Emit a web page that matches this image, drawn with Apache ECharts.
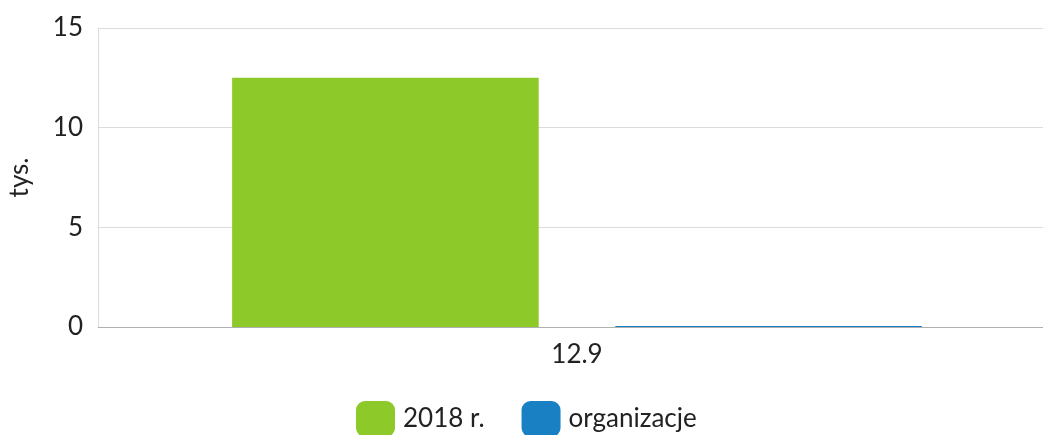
<!DOCTYPE html>
<html>
<head>
<meta charset="utf-8">
<script src="https://cdn.jsdelivr.net/npm/echarts@6/dist/echarts.min.js"></script>
<style>
  html, body { margin: 0; padding: 0; background: #fff; }
  #chart { width: 1043px; height: 435px; }
</style>
</head>
<body>
<div id="chart"></div>
<script>
const categories = ["12.9"];
const seriesNames = ["2018 r.", "organizacje"];
const values2018 = [12.5];
const valuesOrg = [0.05];
const yTicks = { min: 0, max: 15, interval: 5 };

const font = "Lato, 'DejaVu Sans', sans-serif";

const chart = echarts.init(document.getElementById("chart"));
chart.setOption({
  animation: false,
  textStyle: { fontFamily: font },
  grid: {
    left: 98, width: 958, top: 28, height: 299,
    containLabel: false, outerBoundsMode: "none"
  },
  legend: {
    bottom: -2,
    left: 356,
    padding: 0,
    itemWidth: 39,
    itemHeight: 36,
    itemGap: 37,
    icon: "roundRect",
    textStyle: { fontFamily: font, fontSize: 26, color: "#222", padding: [0, 0, 0, 3] },
    data: seriesNames
  },
  xAxis: {
    type: "category",
    data: categories,
    z: 10,
    axisLine: { lineStyle: { color: "rgba(0,0,0,0.2)", width: 1 } },
    axisTick: { show: false },
    axisLabel: { fontFamily: font, fontSize: 26, color: "#222", margin: 15 }
  },
  yAxis: {
    type: "value",
    min: yTicks.min,
    max: yTicks.max,
    interval: yTicks.interval,
    name: "tys.",
    nameLocation: "middle",
    nameGap: 65,
    nameRotate: 90,
    nameTextStyle: { fontFamily: font, fontSize: 26, color: "#222" },
    axisLine: { show: true, lineStyle: { color: "#dcdcdc" } },
    axisTick: { show: false },
    axisLabel: { fontFamily: font, fontSize: 26, color: "#222", margin: 15 },
    splitLine: { lineStyle: { color: "#dcdcdc" } }
  },
  series: [
    {
      name: seriesNames[0],
      type: "bar",
      data: values2018,
      barGap: "25%",
      barCategoryGap: "28%",
      itemStyle: { color: "#8cc929" }
    },
    {
      name: seriesNames[1],
      type: "bar",
      data: valuesOrg,
      itemStyle: { color: "#1a80c4" }
    }
  ]
});
</script>
</body>
</html>
